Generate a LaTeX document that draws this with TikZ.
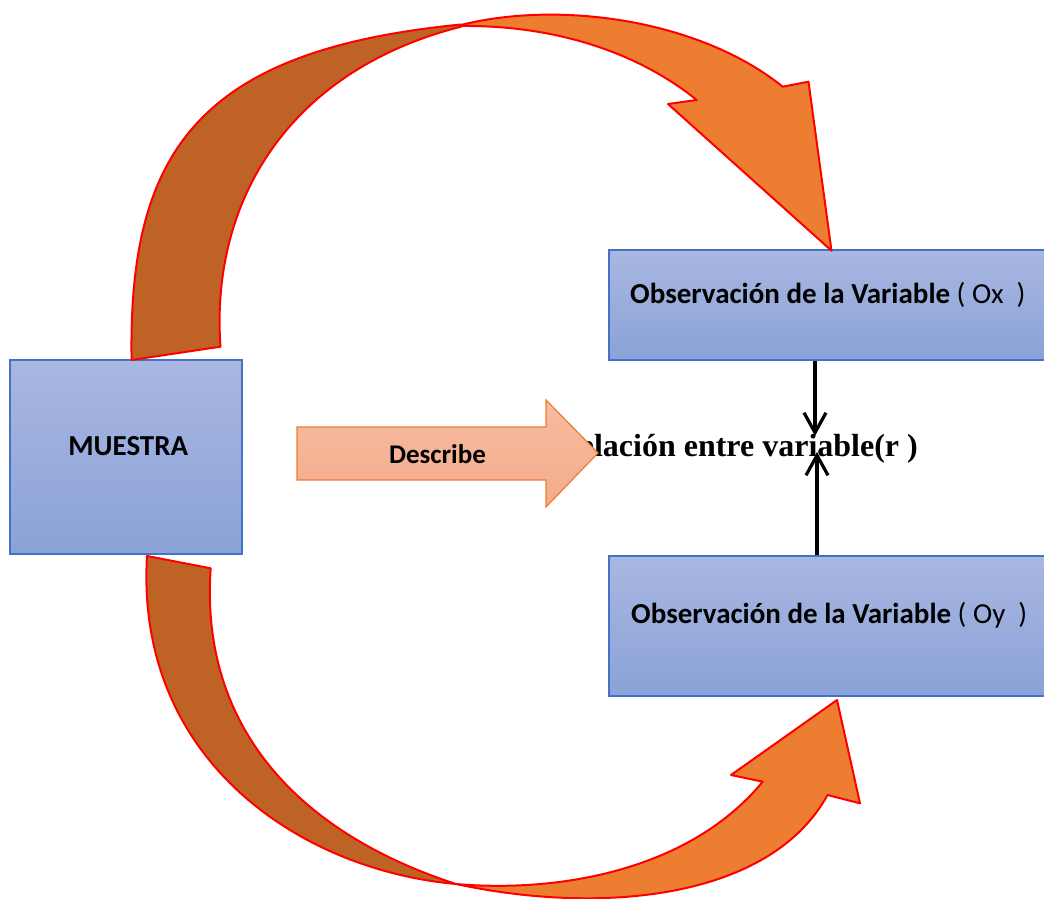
\documentclass[tikz,border=0pt]{standalone}
\usepackage{fontspec}
\setmainfont{Carlito}
\newfontfamily\relfont{Liberation Serif}
\usetikzlibrary{arrows.meta}
\definecolor{boxtop}{HTML}{A9B7E1}
\definecolor{boxbot}{HTML}{8AA2D8}
\definecolor{boxline}{HTML}{4472C4}
\definecolor{arrtop}{HTML}{F7BCA1}
\definecolor{arrbot}{HTML}{F3AC8B}
\definecolor{arrline}{HTML}{ED7D31}
\definecolor{ribfront}{HTML}{ED7D31}
\definecolor{ribback}{HTML}{BE6325}
\tikzset{
  box/.style={draw=boxline, line width=1.5pt, top color=boxtop, bottom color=boxbot, inner sep=0pt},
  boxtext/.style={inner sep=0pt, font=\fontsize{29}{34}\selectfont},
  ribbonback/.style={draw=red, fill=ribback, line width=2pt, line join=round},
  ribbonfront/.style={draw=red, fill=ribfront, line width=2pt, line join=round},
  blockarrow/.style={draw=arrline, line width=1.2pt, top color=arrtop, bottom color=arrbot},
  vconn/.style={line width=3.2pt, -{Straight Barb[length=20pt,width=22pt]}}
}
\begin{document}
\begin{tikzpicture}[x=1pt,y=-1pt]
\useasboundingbox[fill=white] (0,0) rectangle (1044,899);

% boxes
\node[box, minimum width=232pt, minimum height=194pt] (muestrabox) at (126,457) {};
\node[box, minimum width=441pt, minimum height=110pt] (oxbox) at (829.5,305) {};
\node[box, minimum width=441pt, minimum height=140pt] (oybox) at (829.5,626) {};

% texts in boxes
\node[boxtext, anchor=base] (muestra) at (128.3,455) {\textbf{MUESTRA}};
\node[boxtext, anchor=base west] (oxtext) at (630,303) {\textbf{Observación de la Variable} ( Ox\ \ )};
\node[boxtext, anchor=base west] (oytext) at (631,623) {\textbf{Observación de la Variable} ( Oy\ \ )};

% relation text (partly covered by the block arrow)
\node[inner sep=0pt, anchor=base east, font=\relfont\bfseries\fontsize{32}{38}\selectfont] (rel) at (918,456) {Relación entre variable(r )};

% Describe block arrow
\draw[blockarrow] (297,427) -- (546,427) -- (546,400) -- (598,453) -- (546,507) -- (546,480) -- (297,480) -- cycle;
\node[boxtext, anchor=base, font=\bfseries\fontsize{27}{32}\selectfont] (describe) at (437.5,463) {Describe};

% vertical connectors
\coordinate (meettop) at (815,436);
\coordinate (meetbot) at (817,452);
\draw[vconn] (oxbox.south -| meettop) -- (meettop);
\draw[vconn] (oybox.north -| meetbot) -- (meetbot);

% top curved arrow: back (brown) part
\draw[ribbonback]
  (131.6,360) .. controls (128,150) and (200,50) .. (461,24.5)
  -- (461,26.7) .. controls (290,70) and (210,200) .. (220.5,346.7)
  -- cycle;
% top curved arrow: front (orange) part
\draw[ribbonfront]
  (461,25) .. controls (560,0) and (700,20) .. (782.7,86.7)
  -- (808.5,81.7) -- (831.5,250.7) -- (668,104) -- (696.7,100)
  .. controls (645,58) and (565,25) .. (461,26)
  -- cycle;

% bottom curved arrow: back (brown) part
\draw[ribbonback]
  (147,556) .. controls (135,760) and (300,870) .. (456,884)
  .. controls (290,830) and (200,720) .. (210.7,568.3)
  -- cycle;
% bottom curved arrow: front (orange) part
\draw[ribbonfront]
  (456,884) .. controls (560,893) and (690,870) .. (762.7,781.7)
  -- (731,775) -- (837,700) -- (860,803.3) -- (827.5,795)
  .. controls (770,900) and (600,915) .. (456,884)
  -- cycle;
\end{tikzpicture}
\end{document}
